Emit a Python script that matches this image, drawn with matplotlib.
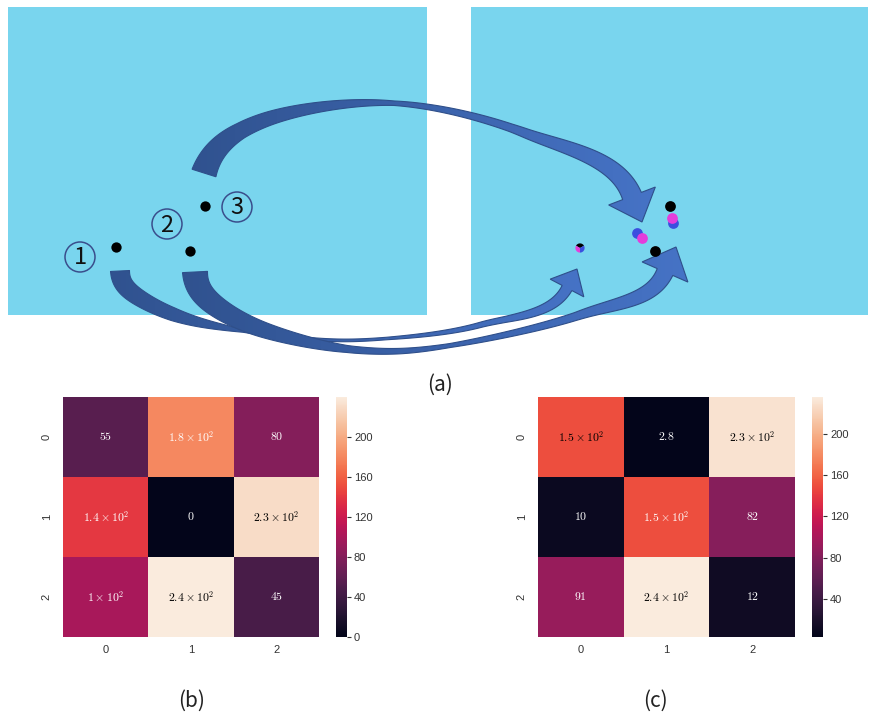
import numpy as np
import matplotlib
matplotlib.use("Agg")
import matplotlib.pyplot as plt
import seaborn as sns
from matplotlib.patches import Polygon, Circle, Rectangle, Wedge
from matplotlib.colors import LinearSegmentedColormap

plt.rcParams['mathtext.fontset'] = 'cm'
plt.rcParams['font.family'] = ['Liberation Sans', 'DejaVu Sans']

# ---------------- data ----------------
heat_b = np.array([[55, 180, 80],
                   [140, 0, 230],
                   [100, 240, 45]])
heat_c = np.array([[150, 2.8, 230],
                   [10, 150, 82],
                   [91, 236, 12]])
tick_labels = ["0", "1", "2"]
cbar_ticks_b = [0, 40, 80, 120, 160, 200]
cbar_ticks_c = [40, 80, 120, 160, 200]

# points in panel (a) (pixel coordinates of the illustration)
src_x = [116, 190, 205]
src_y = [247, 251, 206]
src_names = ["1", "2", "3"]
dst_black_x = [670, 655]
dst_black_y = [206, 251]
dst_blue_x = [673, 637]
dst_blue_y = [223, 233]
dst_mag_x = [672, 642]
dst_mag_y = [218, 238]
mixed_dot = (580, 248)

# ---------------- styles / layout ----------------
W, H = 877, 715
PANEL_COLOR = "#79D5EE"
ARROW_DARK = "#30528F"
ARROW_LIGHT = "#4673C6"
ARROW_EDGE = "#2F4F8A"
BLUE = "#3B4FDF"
MAGENTA = "#E43DDB"

fig = plt.figure(figsize=(W / 100, H / 100), dpi=100)
ax = fig.add_axes([0, 0, 1, 1])
ax.axis('off')

# blue panels
for (x0, y0, x1, y1) in [(8, 7, 427, 315), (471, 7, 868, 315)]:
    ax.add_patch(Rectangle((x0, y0), x1 - x0, y1 - y0, facecolor=PANEL_COLOR,
                           edgecolor='none', zorder=0))


def tapered_arrow(pts, start_dir, tip, prof_s, prof_w, head_w, z, n=60):
    P = np.asarray(pts, float)
    tip = np.asarray(tip, float)
    d0 = np.asarray(start_dir, float)
    d0 /= np.linalg.norm(d0)
    d1 = tip - P[-1]
    d1 /= np.linalg.norm(d1)
    m = np.zeros_like(P)
    for i in range(1, len(P) - 1):
        m[i] = 0.5 * (P[i + 1] - P[i - 1])
    m[0] = d0 * np.linalg.norm(P[1] - P[0])
    m[-1] = d1 * np.linalg.norm(P[-1] - P[-2])
    t = np.linspace(0, 1, n)[:-1][:, None]
    h00 = 2 * t**3 - 3 * t**2 + 1
    h10 = t**3 - 2 * t**2 + t
    h01 = -2 * t**3 + 3 * t**2
    h11 = t**3 - t**2
    segs = [h00 * P[i] + h10 * m[i] + h01 * P[i + 1] + h11 * m[i + 1]
            for i in range(len(P) - 1)]
    C = np.vstack(segs + [P[-1:]])
    T = np.gradient(C, axis=0)
    T /= np.linalg.norm(T, axis=1)[:, None]
    T[-1] = d1
    T[0] = d0
    ds = np.linalg.norm(np.diff(C, axis=0), axis=1)
    s = np.concatenate([[0], np.cumsum(ds)]) / ds.sum()
    w = np.interp(s, prof_s, prof_w)
    N = np.stack([-T[:, 1], T[:, 0]], axis=1)
    L = C + N * w[:, None] / 2
    R = C - N * w[:, None] / 2
    Nh = np.array([-d1[1], d1[0]])
    E = C[-1]
    wl = E + Nh * head_w / 2
    wr = E - Nh * head_w / 2
    poly = np.vstack([L, wl, tip, wr, R[::-1]])
    clip = Polygon(poly, closed=True, facecolor='none', edgecolor='none', zorder=z)
    ax.add_patch(clip)
    cmap = LinearSegmentedColormap.from_list("arr", [ARROW_DARK, ARROW_LIGHT])
    grad = np.linspace(0, 1, 256).reshape(1, -1)
    im = ax.imshow(grad, extent=(poly[:, 0].min(), poly[:, 0].max(),
                                 poly[:, 1].max(), poly[:, 1].min()),
                   cmap=cmap, aspect='auto', zorder=z, interpolation='bilinear')
    im.set_clip_path(clip)
    ax.add_patch(Polygon(poly, closed=True, facecolor='none', edgecolor=ARROW_EDGE,
                         lw=0.8, zorder=z + 0.1))


# arrow from 3 (over the top)
tapered_arrow([(204, 173), (262, 121), (390, 103), (525, 133), (632, 196)],
              (0.3, -0.95), (642, 222), [0, 0.12, 0.45, 0.7, 1], [25, 16, 4.5, 8, 20],
              50, z=2)
# arrow from 1
tapered_arrow([(120, 271), (138, 297), (198, 322), (300, 338), (380, 339),
               (480, 325), (567, 288)],
              (0.05, 1), (577, 269), [0, 0.15, 0.3, 0.6, 0.85, 1], [19, 13, 3, 2.5, 6, 11],
              38, z=2.2)
# arrow from 2
tapered_arrow([(195, 272), (212, 303), (267, 331), (357, 350), (447, 346),
               (580, 315), (665, 272)],
              (0.05, 1), (676, 247), [0, 0.15, 0.35, 0.55, 0.8, 1], [25, 17, 7, 4, 8, 17],
              50, z=2.4)

# points
ax.scatter(src_x, src_y, s=55, color='black', zorder=5, linewidths=0)
ax.scatter(dst_black_x, dst_black_y, s=60, color='black', zorder=5, linewidths=0)
ax.scatter(dst_blue_x, dst_blue_y, s=60, color=BLUE, zorder=5, linewidths=0)
ax.scatter(dst_mag_x, dst_mag_y, s=60, color=MAGENTA, zorder=6, linewidths=0)
r = 4.6
ax.add_patch(Wedge(mixed_dot, r, 210, 330, facecolor='black', edgecolor='none', zorder=6))
ax.add_patch(Wedge(mixed_dot, r, 90, 210, facecolor=MAGENTA, edgecolor='none', zorder=6))
ax.add_patch(Wedge(mixed_dot, r, -30, 90, facecolor=BLUE, edgecolor='none', zorder=6))

# circled numbers
for (cx, cy), name in zip([(80, 257), (167, 224), (237, 207)], src_names):
    ax.add_patch(Circle((cx, cy), 15, facecolor='none', edgecolor='#3A4E8C', lw=1.1, zorder=5))
    ax.text(cx, cy + 1, name, ha='center', va='center', fontsize=17,
            family=['Noto Sans CJK SC', 'DejaVu Sans'], weight='light', color='#111111', zorder=6)

ax.set_xlim(0, W)
ax.set_ylim(H, 0)

# panel labels
lab_font = ['Noto Sans CJK SC', 'DejaVu Sans']
ax.text(440, 385, "(a)", ha='center', va='center', fontsize=15, family=lab_font, color='#222222')
ax.text(192, 701, "(b)", ha='center', va='center', fontsize=15, family=lab_font, color='#222222')
ax.text(655, 701, "(c)", ha='center', va='center', fontsize=15, family=lab_font, color='#222222')


def sci_label(v):
    s = f"{v:.2g}"
    if 'e' in s:
        mant, ex = s.split('e')
        return rf"${mant}\times10^{{{int(ex)}}}$"
    return f"${s}$"


def draw_heat(data, ticks, text_colors, ax_px, cax_px):
    hx0, hx1 = ax_px
    cx0, cx1 = cax_px
    y0, y1 = 397, 637
    hax = fig.add_axes([hx0 / W, 1 - y1 / H, (hx1 - hx0) / W, (y1 - y0) / H])
    cax = fig.add_axes([cx0 / W, 1 - y1 / H, (cx1 - cx0) / W, (y1 - y0) / H])
    labels = np.array([[sci_label(v) for v in row] for row in data])
    sns.heatmap(data, ax=hax, cbar_ax=cax, annot=labels, fmt='',
                annot_kws={'fontsize': 8.5}, cbar_kws={'ticks': ticks},
                xticklabels=tick_labels, yticklabels=tick_labels)
    for txt, col in zip(hax.texts, text_colors):
        txt.set_color(col)
    hax.tick_params(axis='both', length=0, labelsize=8, labelcolor='#333333')
    hax.tick_params(axis='x', pad=6)
    hax.tick_params(axis='y', pad=8)
    for lab in hax.get_yticklabels():
        lab.set_rotation(90)
        lab.set_va('center')
    for lab in hax.get_xticklabels():
        lab.set_rotation(0)
    cax.tick_params(length=3, width=0.8, labelsize=8, labelcolor='#333333',
                    color='#333333', pad=2)


draw_heat(heat_b, cbar_ticks_b,
          ['white', 'white', 'white', 'white', 'white', 'black', 'white', 'black', 'white'],
          (63, 319), (336, 347))
draw_heat(heat_c, cbar_ticks_c,
          ['black', 'white', 'black', 'white', 'white', 'white', 'white', 'black', 'white'],
          (538, 795), (812, 823))

fig.savefig("out.png", dpi=100)
